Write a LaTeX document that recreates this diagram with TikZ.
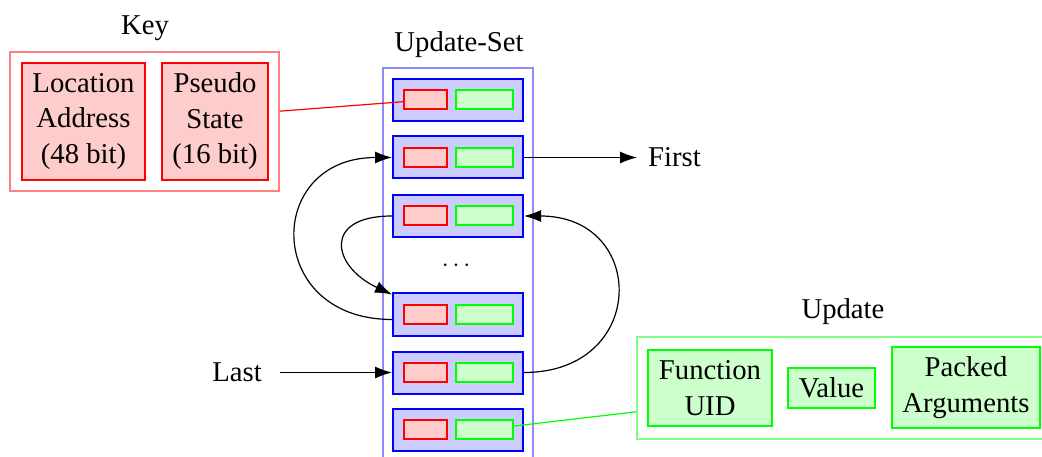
\documentclass[tikz,border=0pt]{standalone}
\usepackage{fontspec}
\setmainfont{Liberation Serif}
\usetikzlibrary{arrows.meta,calc}
\begin{document}
\begin{tikzpicture}[x=1pt,y=-1pt,
  font=\fontsize{28.7}{35.5}\selectfont,
  redbox/.style={draw=red, fill=red!20, line width=2pt, inner sep=0pt, align=center},
  greenbox/.style={draw=green, fill=green!20, line width=2pt, inner sep=0pt, align=center},
  bluebox/.style={draw=blue, fill=blue!20, line width=2pt, inner sep=0pt, minimum width=130pt, minimum height=42pt},
  keyouter/.style={draw=red!50, line width=2pt, inner sep=0pt},
  updouter/.style={draw=green!50, line width=2pt, inner sep=0pt},
  setouter/.style={draw=blue!45, line width=2pt, inner sep=0pt},
  link/.style={line width=1.2pt, -{Latex[length=17pt,width=12pt]}},
  title/.style={anchor=base, inner sep=0pt},
]
\useasboundingbox (0,0) rectangle (1042,457);

% Key
\node[title] (keylabel) at (145,35) {Key};
\node[keyouter, minimum width=269pt, minimum height=139pt] (key) at (144.5,121.5) {};
\node[redbox, minimum width=123pt, minimum height=117pt] (loc) at (83.5,121.5) {Location\\Address\\(48 bit)};
\node[redbox, minimum width=106pt, minimum height=117pt] (pseudo) at (215,121.5) {Pseudo\\State\\(16 bit)};

% Update-Set
\node[title] (setlabel) at (459,52) {Update-Set};
\node[setouter, minimum width=150pt, minimum height=402pt] (set) at (458,269) {};
\foreach \n/\y in {r1/100, r2/157.5, r3/216, r4/314.5, r5/372.5, r6/429.5} {
  \node[bluebox] (\n) at (458,\y) {};
  \node[redbox, minimum width=43pt, minimum height=19pt] (\n-red) at (425.5,\y) {};
  \node[greenbox, minimum width=57pt, minimum height=19pt] (\n-green) at (484.5,\y) {};
}
\node[anchor=base, inner sep=0pt] (dots) at (456,272) {${\cdot}\mkern2.8mu{\cdot}\mkern2.8mu{\cdot}$};

% Update
\node[title] (updlabel) at (843,318) {Update};
\node[updouter, minimum width=407pt, minimum height=102pt] (upd) at (840.5,388) {};
\node[greenbox, minimum width=124pt, minimum height=76pt] (func) at (710,388) {Function\\UID};
\node[greenbox, minimum width=87pt, minimum height=40pt] (value) at (831.5,388) {Value};
\node[greenbox, minimum width=148pt, minimum height=81pt] (packed) at (966,387.5) {Packed\\Arguments};

% First / Last
\node[anchor=west, inner xsep=11pt] (first) at (637,157.5) {First};
\node[anchor=east, inner xsep=18pt] (last) at (280,372.5) {Last};

% connectors
\draw[link] (r2) -- (first);
\draw[link] (last) -- (r5);
\draw[link] ($(r4.west)+(0,5)$) .. controls +(-128,0) and +(-128,0) .. (r2.west);
\draw[link] (r3.west) .. controls +(-70,0) and +(-60,-28) .. ($(r4.north west)+(0,2)$);
\draw[link] (r5.east) .. controls +(124,0) and +(124,0) .. (r3.east);
\draw[red, line width=1.2pt] (key) -- (r1-red);
\draw[green, line width=1.2pt] (r6-green) -- (upd);
\end{tikzpicture}
\end{document}
